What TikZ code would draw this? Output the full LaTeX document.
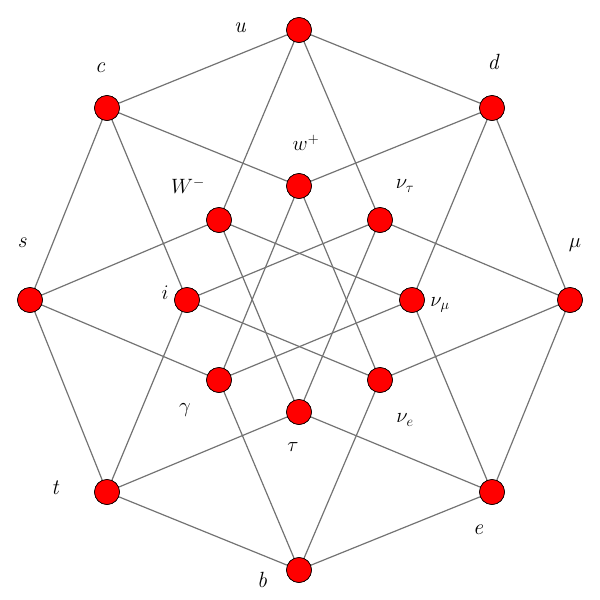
\documentclass[tikz,border=0pt]{standalone}
\begin{document}
\begin{tikzpicture}[x=1pt,y=-1pt,
  vtx/.style={circle,fill=red,draw=black,line width=0.6pt,minimum size=25pt,inner sep=0pt},
  lbl/.style={font=\fontsize{22}{24}\selectfont\itshape},
  edge/.style={draw=black!55,line width=1.2pt}]
\useasboundingbox (0,0) rectangle (600,600);
\node[vtx] (u) at (299,30) {};
\node[vtx] (d) at (492,108) {};
\node[vtx] (mu) at (570,300) {};
\node[vtx] (e) at (492,492) {};
\node[vtx] (b) at (299,570) {};
\node[vtx] (t) at (107,492) {};
\node[vtx] (s) at (30,300) {};
\node[vtx] (c) at (107,108) {};
\node[vtx] (wp) at (299,186) {};
\node[vtx] (nt) at (380,220) {};
\node[vtx] (nm) at (412,300) {};
\node[vtx] (ne) at (380,380) {};
\node[vtx] (ta) at (299,412) {};
\node[vtx] (ga) at (219,380) {};
\node[vtx] (i) at (187,300) {};
\node[vtx] (wm) at (219,220) {};
\foreach \a/\b in {u/d,d/mu,mu/e,e/b,b/t,t/s,s/c,c/u,
  u/wm,u/nt,c/wp,c/i,d/wp,d/nm,s/wm,s/ga,mu/nt,mu/ne,t/i,t/ta,e/ta,e/nm,b/ga,b/ne,
  wp/ga,wp/ne,wm/nm,wm/ta,nt/i,nt/ta,i/ne,ga/nm}
  \draw[edge] (\a) -- (\b);
\foreach \n in {u,d,mu,e,b,t,s,c,wp,nt,nm,ne,ta,ga,i,wm}
  \node[vtx] at (\n) {};
\node[lbl] (lu) at (240,28) {u};
\node[lbl] (lc) at (100,68) {c};
\node[lbl] (ld) at (493,62) {d};
\node[lbl] (lwp) at (306,143) {$w^+$};
\node[lbl] (lwm) at (188,186) {$W^-$};
\node[lbl] (lnt) at (405,186) {$\nu_\tau$};
\node[lbl] (ls) at (22,243) {s};
\node[lbl] (lmu) at (575,245) {$\mu$};
\node[lbl] (li) at (165,293) {$i$};
\node[lbl] (lnm) at (440,305) {$\nu_\mu$};
\node[lbl] (lga) at (185,410) {$\gamma$};
\node[lbl] (lta) at (293,447) {$\tau$};
\node[lbl] (lne) at (405,420) {$\nu_e$};
\node[lbl] (lt) at (55,488) {t};
\node[lbl] (le) at (478,530) {e};
\node[lbl] (lb) at (262,580) {b};
\end{tikzpicture}
\end{document}
